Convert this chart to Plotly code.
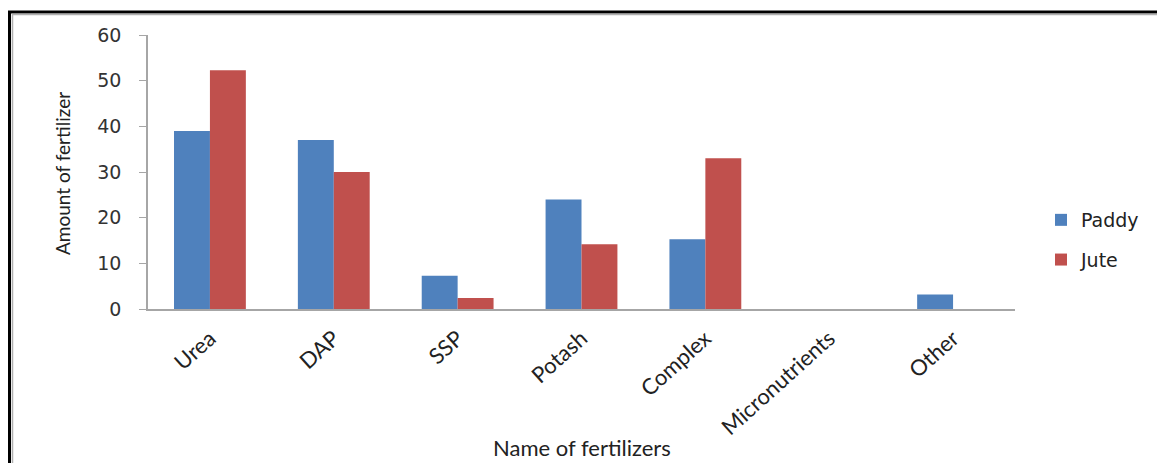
import plotly.graph_objects as go

categories = ["Urea", "DAP", "SSP", "Potash", "Complex", "Micronutrients", "Other"]
paddy = [39, 37, 7.3, 24, 15.3, 0, 3.2]
jute = [52.3, 30, 2.4, 14.2, 33, 0, 0]
y_ticks = [0, 10, 20, 30, 40, 50, 60]

OFF = 8  # page body margin in the browser
W, H = 1165 - OFF, 463 - OFF
L, R, T, B = 148 - OFF, 150, 35 - OFF, 154
pw, ph = W - L - R, H - T - B


def px_x(x):
    return (x - OFF - L) / pw


def px_y(y):
    return (H - B - (y - OFF)) / ph


fig = go.Figure()
fig.add_trace(go.Bar(x=categories, y=paddy, name="Paddy", marker_color="#4F81BD",
                     legendgroup="a"))
fig.add_trace(go.Bar(x=categories, y=jute, name="Jute", marker_color="#C0504D",
                     legendgroup="b"))

fig.update_layout(
    template="none",
    width=W, height=H,
    margin=dict(l=L, r=R, t=T, b=B, autoexpand=False),
    paper_bgcolor="white", plot_bgcolor="white",
    bargap=0.42, bargroupgap=0,
    barmode="group",
    showlegend=True,
    legend=dict(x=px_x(1041), xanchor="left", y=px_y(240), yanchor="middle",
                font=dict(family="DejaVu Sans", size=19, color="#222"),
                tracegroupgap=12, traceorder="grouped", bgcolor="rgba(0,0,0,0)"),
    xaxis=dict(showline=True, linecolor="#a6a6a6", linewidth=2, showgrid=False,
               ticks="", tickangle=-42, automargin=False, zeroline=False,
               tickfont=dict(family="Lato", size=22, color="#222"),
               ticklabelstandoff=6),
    yaxis=dict(range=[0, 60], tickvals=y_ticks, showline=True, linecolor="#a6a6a6",
               linewidth=1.5, showgrid=False, zeroline=False, ticks="outside", ticklen=7,
               tickcolor="#a6a6a6", automargin=False,
               tickfont=dict(family="DejaVu Sans", size=19, color="#333"),
               ticklabelstandoff=14),
    annotations=[
        dict(text="Amount of fertilizer", xref="paper", yref="paper",
             x=px_x(62), y=px_y(174), textangle=-90, showarrow=False,
             xanchor="center", yanchor="middle",
             font=dict(family="Lato", size=19, color="#222")),
        dict(text="Name of fertilizers", xref="paper", yref="paper",
             x=px_x(582), y=px_y(448), showarrow=False,
             xanchor="center", yanchor="middle",
             font=dict(family="Lato", size=22, color="#222")),
    ],
    shapes=[
        dict(type="line", xref="paper", yref="paper", x0=px_x(8), x1=px_x(1200),
             y0=px_y(12), y1=px_y(12), line=dict(color="black", width=3)),
        dict(type="line", xref="paper", yref="paper", x0=px_x(12), x1=px_x(1200),
             y0=px_y(14.5), y1=px_y(14.5), line=dict(color="#b0b0b0", width=1.5)),
        dict(type="line", xref="paper", yref="paper", x0=px_x(9.5), x1=px_x(9.5),
             y0=px_y(11), y1=px_y(500), line=dict(color="black", width=3)),
        dict(type="line", xref="paper", yref="paper", x0=px_x(12.5), x1=px_x(12.5),
             y0=px_y(14), y1=px_y(500), line=dict(color="#b0b0b0", width=1.5)),
    ],
)

fig.write_html("out.html")
